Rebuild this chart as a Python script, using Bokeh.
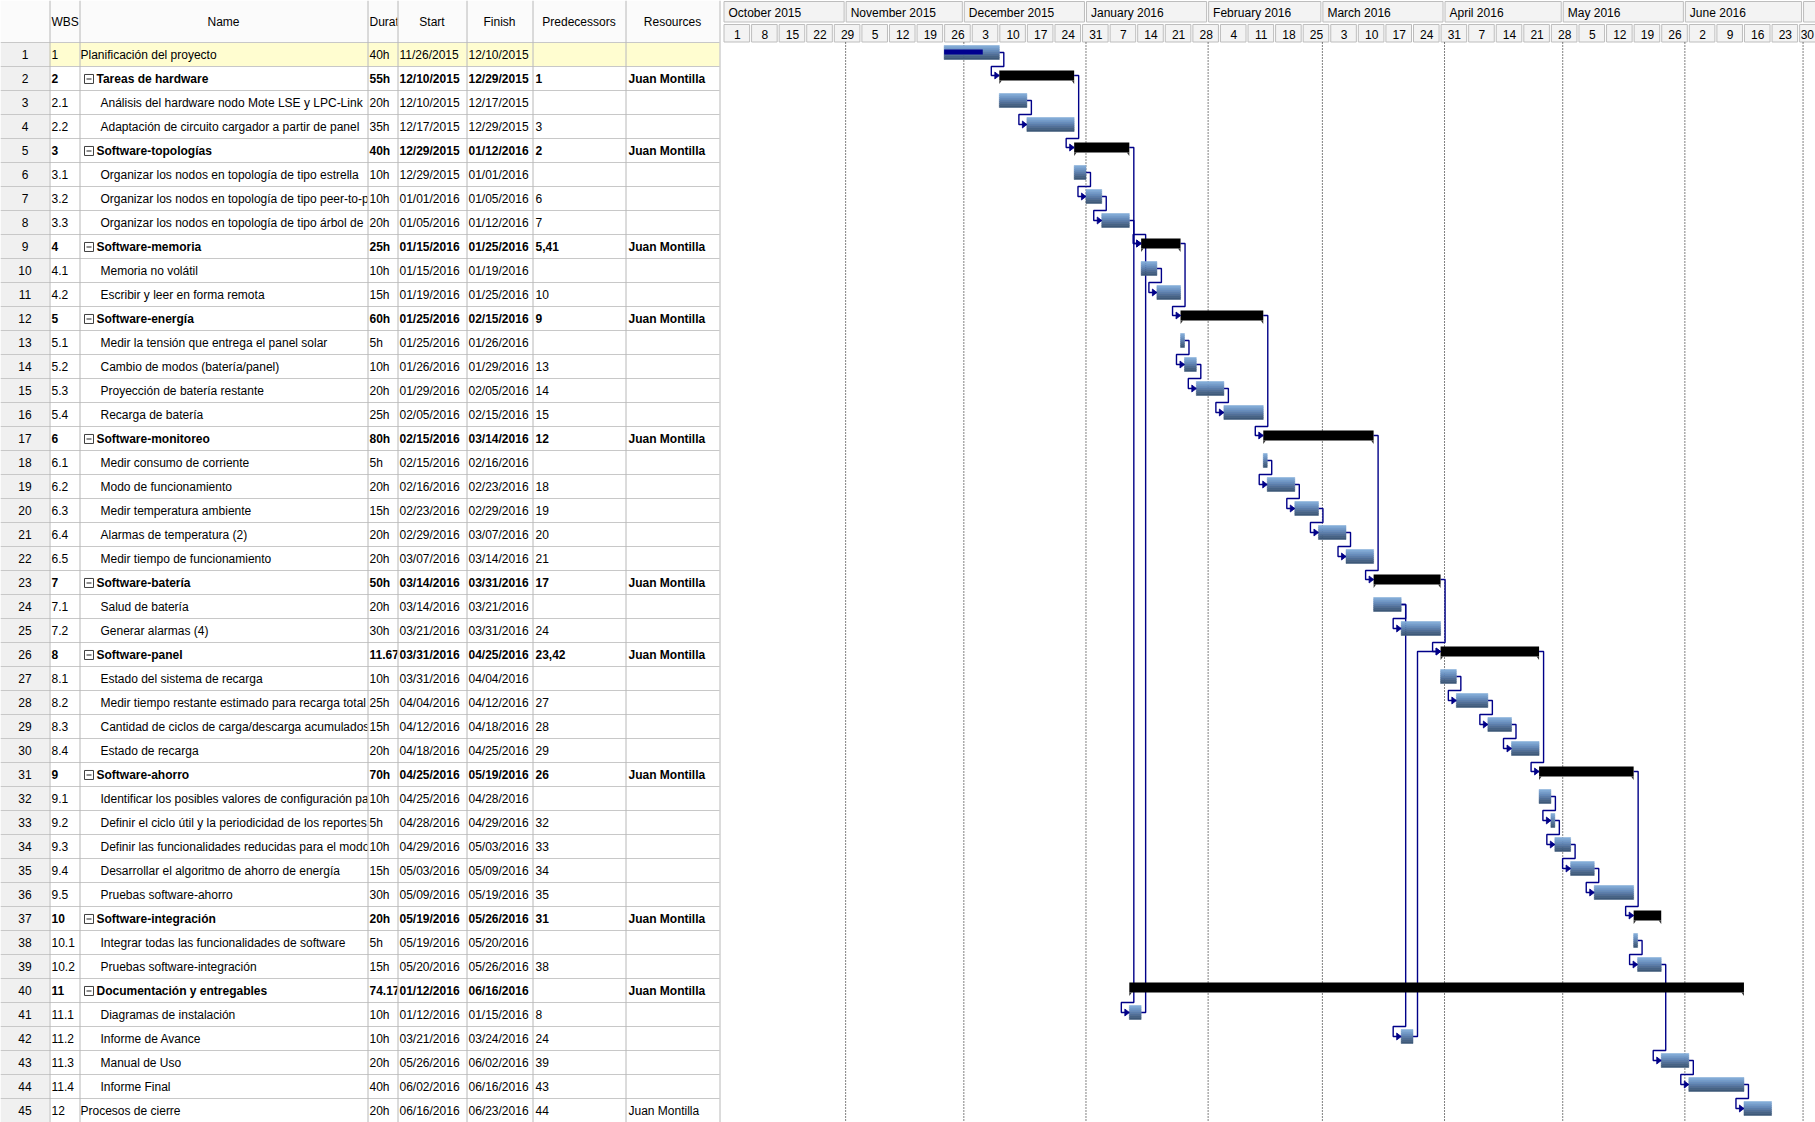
from datetime import date, timedelta
from bokeh.plotting import figure
from bokeh.models import Range1d
from bokeh.core.properties import value
from bokeh.embed import file_html
from bokeh.resources import INLINE

# ---------------- data ----------------
row_ids = list(range(1, 46))
wbs = ["1", "2", "2.1", "2.2", "3", "3.1", "3.2", "3.3", "4", "4.1", "4.2", "5", "5.1", "5.2",
       "5.3", "5.4", "6", "6.1", "6.2", "6.3", "6.4", "6.5", "7", "7.1", "7.2", "8", "8.1", "8.2",
       "8.3", "8.4", "9", "9.1", "9.2", "9.3", "9.4", "9.5", "10", "10.1", "10.2", "11", "11.1",
       "11.2", "11.3", "11.4", "12"]
names = [
    "Planificación del proyecto",
    "Tareas de hardware",
    "Análisis del hardware nodo Mote LSE y LPC-Link",
    "Adaptación de circuito cargador a partir de panel",
    "Software-topologías",
    "Organizar los nodos en topología de tipo estrella",
    "Organizar los nodos en topología de tipo peer-to-peer",
    "Organizar los nodos en topología de tipo árbol de",
    "Software-memoria",
    "Memoria no volátil",
    "Escribir y leer en forma remota",
    "Software-energía",
    "Medir la tensión que entrega el panel solar",
    "Cambio de modos (batería/panel)",
    "Proyección de batería restante",
    "Recarga de batería",
    "Software-monitoreo",
    "Medir consumo de corriente",
    "Modo de funcionamiento",
    "Medir temperatura ambiente",
    "Alarmas de temperatura (2)",
    "Medir tiempo de funcionamiento",
    "Software-batería",
    "Salud de batería",
    "Generar alarmas (4)",
    "Software-panel",
    "Estado del sistema de recarga",
    "Medir tiempo restante estimado para recarga total",
    "Cantidad de ciclos de carga/descarga acumulados",
    "Estado de recarga",
    "Software-ahorro",
    "Identificar los posibles valores de configuración para",
    "Definir el ciclo útil y la periodicidad de los reportes",
    "Definir las funcionalidades reducidas para el modo",
    "Desarrollar el algoritmo de ahorro de energía",
    "Pruebas software-ahorro",
    "Software-integración",
    "Integrar todas las funcionalidades de software",
    "Pruebas software-integración",
    "Documentación y entregables",
    "Diagramas de instalación",
    "Informe de Avance",
    "Manual de Uso",
    "Informe Final",
    "Procesos de cierre",
]
durations = ["40h", "55h", "20h", "35h", "40h", "10h", "10h", "20h", "25h", "10h", "15h", "60h",
             "5h", "10h", "20h", "25h", "80h", "5h", "20h", "15h", "20h", "20h", "50h", "20h",
             "30h", "11.67", "10h", "25h", "15h", "20h", "70h", "10h", "5h", "10h", "15h", "30h",
             "20h", "5h", "15h", "74.17", "10h", "10h", "20h", "40h", "20h"]
starts = ["11/26/2015", "12/10/2015", "12/10/2015", "12/17/2015", "12/29/2015", "12/29/2015",
          "01/01/2016", "01/05/2016", "01/15/2016", "01/15/2016", "01/19/2016", "01/25/2016",
          "01/25/2016", "01/26/2016", "01/29/2016", "02/05/2016", "02/15/2016", "02/15/2016",
          "02/16/2016", "02/23/2016", "02/29/2016", "03/07/2016", "03/14/2016", "03/14/2016",
          "03/21/2016", "03/31/2016", "03/31/2016", "04/04/2016", "04/12/2016", "04/18/2016",
          "04/25/2016", "04/25/2016", "04/28/2016", "04/29/2016", "05/03/2016", "05/09/2016",
          "05/19/2016", "05/19/2016", "05/20/2016", "01/12/2016", "01/12/2016", "03/21/2016",
          "05/26/2016", "06/02/2016", "06/16/2016"]
finishes = ["12/10/2015", "12/29/2015", "12/17/2015", "12/29/2015", "01/12/2016", "01/01/2016",
            "01/05/2016", "01/12/2016", "01/25/2016", "01/19/2016", "01/25/2016", "02/15/2016",
            "01/26/2016", "01/29/2016", "02/05/2016", "02/15/2016", "03/14/2016", "02/16/2016",
            "02/23/2016", "02/29/2016", "03/07/2016", "03/14/2016", "03/31/2016", "03/21/2016",
            "03/31/2016", "04/25/2016", "04/04/2016", "04/12/2016", "04/18/2016", "04/25/2016",
            "05/19/2016", "04/28/2016", "04/29/2016", "05/03/2016", "05/09/2016", "05/19/2016",
            "05/26/2016", "05/20/2016", "05/26/2016", "06/16/2016", "01/15/2016", "03/24/2016",
            "06/02/2016", "06/16/2016", "06/23/2016"]
predecessors = ["", "1", "", "3", "2", "", "6", "7", "5,41", "", "10", "9", "", "13", "14", "15",
                "12", "", "18", "19", "20", "21", "17", "", "24", "23,42", "", "27", "28", "29",
                "26", "", "32", "33", "34", "35", "31", "", "38", "", "8", "24", "39", "43", "44"]
resources = ["", "Juan Montilla", "", "", "Juan Montilla", "", "", "", "Juan Montilla", "", "",
             "Juan Montilla", "", "", "", "", "Juan Montilla", "", "", "", "", "", "Juan Montilla",
             "", "", "Juan Montilla", "", "", "", "", "Juan Montilla", "", "", "", "", "",
             "Juan Montilla", "", "", "Juan Montilla", "", "", "", "", "Juan Montilla"]
summary_rows = [2, 5, 9, 12, 17, 23, 26, 31, 37, 40]
top_level_rows = [1, 45]
progress_rows = [1]
progress_frac = [0.7]
highlight_rows = [1]

month_labels = ["October 2015", "November 2015", "December 2015", "January 2016",
                "February 2016", "March 2016", "April 2016", "May 2016", "June 2016", ""]
month_starts = ["10/01/2015", "11/01/2015", "12/01/2015", "01/01/2016", "02/01/2016",
                "03/01/2016", "04/01/2016", "05/01/2016", "06/01/2016", "07/01/2016"]
week_labels = ["1", "8", "15", "22", "29", "5", "12", "19", "26", "3", "10", "17", "24", "31",
               "7", "14", "21", "28", "4", "11", "18", "25", "3", "10", "17", "24", "31", "7",
               "14", "21", "28", "5", "12", "19", "26", "2", "9", "16", "23", "30"]
first_week = "10/01/2015"

header_labels = ["", "WBS", "Name", "Duration", "Start", "Finish", "Predecessors", "Resources"]

# ---------------- layout constants ----------------
W, H = 1815, 1122
ROW_PX = 24.0
PX_PER_DAY = 3.94
GANTT_X0 = 723.0          # pixel position of the time origin
ORIGIN = date(2015, 10, 1)
FONT = value("Liberation Sans")
FS = "12px"


def to_date(s):
    m, d, y = map(int, s.split("/"))
    return date(y, m, d)


def dx(s):
    return (to_date(s) - ORIGIN).days


def ry(i, px):
    """y (row units) of a pixel offset px below the top of row i"""
    return i - 0.5 + px / ROW_PX


def pxd(px):
    return px / PX_PER_DAY


x_start = -GANTT_X0 / PX_PER_DAY
x_end = (W - GANTT_X0) / PX_PER_DAY
Y_TOP = -1.25     # 42 px header
Y_BOT = 45.5

p = figure(width=W, height=H, output_backend="svg", toolbar_location=None,
           x_range=Range1d(x_start, x_end), y_range=Range1d(Y_BOT, Y_TOP),
           x_axis_location=None, y_axis_location=None, min_border=0,
           background_fill_color="white", border_fill_color="white")
p.outline_line_color = None
p.grid.visible = False
p.extra_x_ranges = {"tbl": Range1d(0, W)}

n = len(row_ids)
is_sum = [r in summary_rows for r in row_ids]

# ---------------- table ----------------
col_edges = [0, 49, 79, 367, 397, 466, 532, 625, 719]
col_texts = [[str(r) for r in row_ids], wbs, names, durations, starts, finishes, predecessors,
             resources]
col_x = [24.5, 51, None, 369, 399, 468, 535, 628]
head_x = [24.5, 51, None, 369, None, None, None, None]


def text(xs, ys, txt, align="left", bold=False, rng="tbl", color="black"):
    kw = dict(x=xs, y=ys, text=txt, text_font=FONT, text_font_size=FS,
              text_baseline="middle", text_align=align, text_color=color,
              text_font_style="bold" if bold else "normal")
    if rng:
        kw["x_range_name"] = rng
    p.text(**kw)


hdr_y = Y_TOP + 21 / ROW_PX
for c in range(len(col_edges) - 1):
    l, r = col_edges[c], col_edges[c + 1]
    # header background
    p.quad(left=[l], right=[r], top=[Y_TOP], bottom=[0.5], fill_color="#fbfbfb",
           line_color=None, x_range_name="tbl")
    # body backgrounds
    fills = []
    for rid in row_ids:
        if c == 0:
            fills.append("#f0f0f0")
        elif rid in highlight_rows:
            fills.append("#fffdd0")
        else:
            fills.append("white")
    p.quad(left=[l] * n, right=[r] * n, top=[rid - 0.5 for rid in row_ids],
           bottom=[rid + 0.5 for rid in row_ids], fill_color=fills, line_color=None,
           x_range_name="tbl")
    # header label
    if header_labels[c]:
        if head_x[c] is None:
            text([(l + r) / 2], [hdr_y], [header_labels[c]], align="center")
        else:
            text([head_x[c]], [hdr_y], [header_labels[c]], align="left")
    # cell texts
    vals = col_texts[c]
    for bold in (False, True):
        xs, ys, ts = [], [], []
        for k, rid in enumerate(row_ids):
            row_bold = is_sum[k] and c != 0
            if row_bold != bold or not vals[k]:
                continue
            if c == 2:
                if rid in top_level_rows:
                    xx = 80
                elif is_sum[k]:
                    xx = 96
                else:
                    xx = 100
            else:
                xx = col_x[c]
            xs.append(xx)
            ys.append(rid + 0.02)
            ts.append(vals[k])
        if ts:
            text(xs, ys, ts, align="center" if c == 0 else "left", bold=bold)
    if c == 2:
        sy = [rid + 0.02 for k, rid in enumerate(row_ids) if is_sum[k]]
        p.rect(x=[88.5] * len(sy), y=sy, width=9, height=9, width_units="screen",
               height_units="screen", fill_color="white", line_color="#404040",
               x_range_name="tbl")
        p.rect(x=[88.5] * len(sy), y=sy, width=5, height=1, width_units="screen",
               height_units="screen", fill_color="#202020", line_color=None,
               x_range_name="tbl")

# table grid lines
hl = [0.5] + [rid + 0.5 for rid in row_ids]
p.segment(x0=[0] * len(hl), y0=hl, x1=[719] * len(hl), y1=hl, line_color="#c8c8c8",
          line_width=1, x_range_name="tbl")
ve = [e + 0.5 for e in col_edges[1:]]
p.segment(x0=ve, y0=[Y_TOP] * len(ve), x1=ve, y1=[Y_BOT] * len(ve), line_color="#b8b8b8",
          line_width=1, x_range_name="tbl")

# ---------------- gantt header ----------------
m_x = [dx(s) for s in month_starts]
m_right = m_x[1:] + [x_end + 5]
p.quad(left=[a + pxd(0.5) for a in m_x], right=[b - pxd(1.5) for b in m_right],
       top=[Y_TOP + 1 / ROW_PX] * len(m_x), bottom=[Y_TOP + 21.5 / ROW_PX] * len(m_x),
       fill_color="#f3f3f3", line_color="#bdbdbd", line_width=1)
text([a + pxd(5) for a in m_x], [Y_TOP + 12 / ROW_PX] * len(m_x), month_labels, rng=None)

w0 = dx(first_week)
w_x = [w0 + 7 * k for k in range(len(week_labels))]
p.quad(left=[a + pxd(0.5) for a in w_x], right=[a + 7 - pxd(1.5) for a in w_x],
       top=[Y_TOP + 24 / ROW_PX] * len(w_x), bottom=[Y_TOP + 41.5 / ROW_PX] * len(w_x),
       fill_color="#f3f3f3", line_color="#bdbdbd", line_width=1)
w_lab_x = [min(a + 3.5, (a + x_end) / 2) for a in w_x]
text(w_lab_x, [Y_TOP + 34 / ROW_PX] * len(w_x), week_labels, align="center", rng=None)

# month separator dotted lines
ml = m_x[1:]
p.segment(x0=ml, y0=[0.5] * len(ml), x1=ml, y1=[Y_BOT] * len(ml), line_color="black",
          line_width=1, line_dash="1 2")

# ---------------- bars geometry ----------------
s_x = [dx(s) for s in starts]
f_x = [dx(s) for s in finishes]


def center_y(k):
    rid = row_ids[k]
    return ry(rid, 9) if is_sum[k] else ry(rid, 10)


# ---------------- dependency links (behind bars) ----------------
idx = {rid: k for k, rid in enumerate(row_ids)}
link_xs, link_ys, head_xs, head_ys = [], [], [], []
for k, pr in enumerate(predecessors):
    if not pr:
        continue
    for ps in pr.split(","):
        pk = idx[int(ps)]
        xe, xs_ = f_x[pk], s_x[k]
        yp, ys_ = center_y(pk), center_y(k)
        out = xe + pxd(4.5)
        if xs_ >= out + pxd(4):
            px_ = [xe, out, out, xs_]
            py_ = [yp, yp, ys_, ys_]
        else:
            ytop = row_ids[k] - 0.5
            back = xs_ - pxd(8)
            px_ = [xe, out, out, back, back, xs_]
            py_ = [yp, yp, ytop, ytop, ys_, ys_]
        link_xs.append(px_)
        link_ys.append(py_)
        head_xs.append([xs_, xs_ - pxd(4.5), xs_ - pxd(4.5)])
        head_ys.append([ys_, ys_ - 3.5 / ROW_PX, ys_ + 3.5 / ROW_PX])
p.multi_line(xs=link_xs, ys=link_ys, line_color="#000088", line_width=1.4)

# ---------------- bars ----------------
grad = ["#80aad6", "#749cca", "#678dbd", "#5b7eac", "#506f99", "#466386", "#3d5878"]
nk = [k for k in range(n) if not is_sum[k]]
nstrip = len(grad)
for j, col in enumerate(grad):
    p.quad(left=[s_x[k] for k in nk], right=[f_x[k] for k in nk],
           top=[ry(row_ids[k], 3 + 14 * j / nstrip) for k in nk],
           bottom=[ry(row_ids[k], 3 + 14 * (j + 1) / nstrip) for k in nk],
           fill_color=col, line_color=col, line_width=0.5)

# progress
pk_ = [idx[r] for r in progress_rows]
p.quad(left=[s_x[k] for k in pk_],
       right=[s_x[k] + fr * (f_x[k] - s_x[k]) for k, fr in zip(pk_, progress_frac)],
       top=[ry(row_ids[k], 7) for k in pk_], bottom=[ry(row_ids[k], 12) for k in pk_],
       fill_color="#000090", line_color=None)

# summary bars
sk = [k for k in range(n) if is_sum[k]]
p.quad(left=[s_x[k] for k in sk], right=[f_x[k] for k in sk],
       top=[ry(row_ids[k], 4) for k in sk], bottom=[ry(row_ids[k], 14) for k in sk],
       fill_color="black", line_color=None)
tab_xs, tab_ys = [], []
for k in sk:
    rid = row_ids[k]
    b0, b1 = ry(rid, 14), ry(rid, 17.5)
    tab_xs.append([s_x[k], s_x[k] + pxd(2.5), s_x[k]])
    tab_ys.append([b0, b0, b1])
    tab_xs.append([f_x[k], f_x[k] - pxd(2.5), f_x[k]])
    tab_ys.append([b0, b0, b1])
p.patches(xs=tab_xs, ys=tab_ys, fill_color="#303030", line_color=None)

# arrow heads
p.patches(xs=head_xs, ys=head_ys, fill_color="#000088", line_color="#000088", line_width=0.8)

open("out.html", "w").write(file_html(p, INLINE))
